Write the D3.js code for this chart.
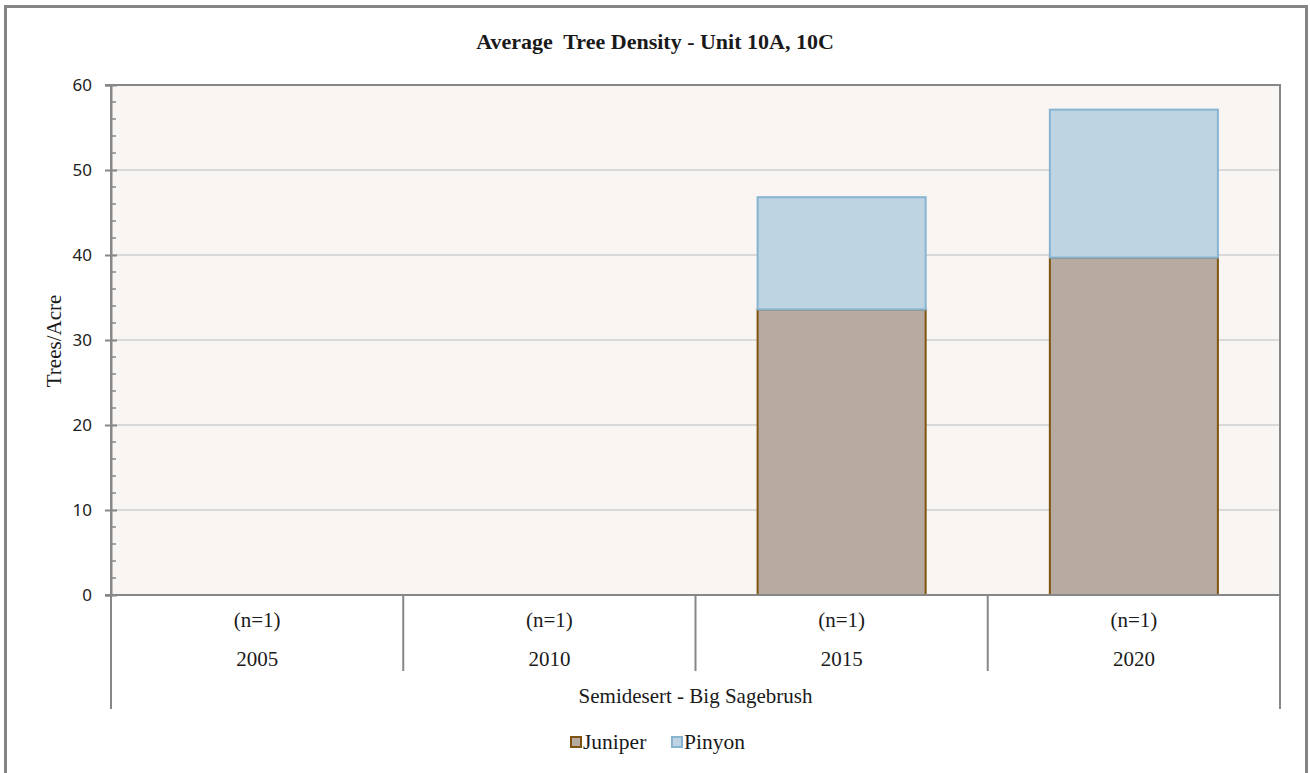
<!DOCTYPE html>
<html>
<head>
<meta charset="utf-8">
<script src="https://cdn.jsdelivr.net/npm/d3@7"></script>
<style>
  html, body { margin: 0; padding: 0; background: #ffffff; }
  svg { display: block; }
</style>
</head>
<body>
<svg id="chart" width="1310" height="773"></svg>
<script>
// Tree density per sampling year (trees/acre)
const years = ["2005", "2010", "2015", "2020"];
const sampleSizes = ["(n=1)", "(n=1)", "(n=1)", "(n=1)"];
const juniper = [0, 0, 33.6, 39.7];
const pinyon = [0, 0, 13.2, 17.4];
const yTicks = [0, 10, 20, 30, 40, 50, 60];
const groupLabel = "Semidesert - Big Sagebrush";
const seriesNames = ["Juniper", "Pinyon"];

const serif = "'Liberation Serif', 'Times New Roman', serif";
const sans = "'Noto Sans', 'DejaVu Sans', sans-serif";
const axisGray = "#878787";

const colors = {
  Juniper: { fill: "#b7aaa0", stroke: "#7f5410" },
  Pinyon: { fill: "#bfd4e2", stroke: "#86b4d1" }
};

const svg = d3.select("#chart");
const plot = { left: 111, right: 1280, top: 85, bottom: 595 };

// Outer frame
svg.append("rect")
  .attr("x", 5.5).attr("y", 6.5)
  .attr("width", 1301).attr("height", 790)
  .attr("fill", "#ffffff")
  .attr("stroke", "#858585").attr("stroke-width", 3);

const x = d3.scaleBand().domain(years).range([plot.left, plot.right]).padding(0);
const y = d3.scaleLinear().domain([0, 60]).range([plot.bottom, plot.top]);

// Plot background
svg.append("rect")
  .attr("x", plot.left).attr("y", plot.top)
  .attr("width", plot.right - plot.left).attr("height", plot.bottom - plot.top)
  .attr("fill", "#f8f5f2");

// Horizontal gridlines
svg.append("g")
  .selectAll("line")
  .data(yTicks.filter(t => t > 0 && t < 60))
  .join("line")
  .attr("x1", plot.left).attr("x2", plot.right)
  .attr("y1", d => y(d)).attr("y2", d => y(d))
  .attr("stroke", "#d9d9d9").attr("stroke-width", 2);

// Stacked bars
const rows = years.map((yr, i) => ({ year: yr, Juniper: juniper[i], Pinyon: pinyon[i] }));
const stacked = d3.stack().keys(seriesNames)(rows);
const barFrac = 0.575;
const barW = x.bandwidth() * barFrac;
const barOff = (x.bandwidth() - barW) / 2;

stacked.forEach(layer => {
  const c = colors[layer.key];
  svg.append("g")
    .selectAll("rect")
    .data(layer.filter(d => d[1] - d[0] > 0))
    .join("rect")
    .attr("x", d => x(d.data.year) + barOff)
    .attr("y", d => y(d[1]))
    .attr("width", barW)
    .attr("height", d => y(d[0]) - y(d[1]))
    .attr("fill", c.fill)
    .attr("stroke", c.stroke)
    .attr("stroke-width", 2);
});

// Plot area border (top and right)
svg.append("path")
  .attr("d", `M${plot.left - 6},${plot.top}H${plot.right}V${plot.bottom}`)
  .attr("fill", "none").attr("stroke", axisGray).attr("stroke-width", 2);

// Y axis with major and minor ticks
const yAxis = d3.axisLeft(y).tickValues(yTicks).tickSize(6).tickPadding(13).tickFormat(d3.format("d"));
const gy = svg.append("g").attr("transform", `translate(${plot.left},0)`).call(yAxis);
gy.select(".domain").attr("stroke", axisGray).attr("stroke-width", 2);
gy.selectAll(".tick line")
  .attr("stroke", axisGray).attr("stroke-width", 2)
  .attr("x1", 6).attr("x2", -6);
gy.selectAll(".tick text")
  .attr("font-family", sans).attr("font-size", 17).attr("fill", "#222");

const minorTicks = d3.range(0, 60, 2).filter(v => v % 10 !== 0);
svg.append("g")
  .selectAll("line")
  .data(minorTicks)
  .join("line")
  .attr("x1", plot.left).attr("x2", plot.left + 5)
  .attr("y1", d => y(d)).attr("y2", d => y(d))
  .attr("stroke", axisGray).attr("stroke-width", 1.5);

// Left axis extends down through the category rows
svg.append("line")
  .attr("x1", plot.left).attr("x2", plot.left)
  .attr("y1", plot.top).attr("y2", 709)
  .attr("stroke", axisGray).attr("stroke-width", 2);

// X axis baseline
svg.append("line")
  .attr("x1", plot.left - 6).attr("x2", plot.right)
  .attr("y1", plot.bottom).attr("y2", plot.bottom)
  .attr("stroke", axisGray).attr("stroke-width", 2);

// Category separators
svg.append("g")
  .selectAll("line")
  .data(years.slice(1))
  .join("line")
  .attr("x1", d => x(d)).attr("x2", d => x(d))
  .attr("y1", plot.bottom).attr("y2", 671)
  .attr("stroke", axisGray).attr("stroke-width", 2);

svg.append("line")
  .attr("x1", plot.right).attr("x2", plot.right)
  .attr("y1", plot.bottom).attr("y2", 709)
  .attr("stroke", axisGray).attr("stroke-width", 2);

// Category labels
const catText = svg.append("g")
  .attr("font-family", serif).attr("font-size", 21)
  .attr("fill", "#1a1a1a").attr("text-anchor", "middle");

catText.selectAll("text.n")
  .data(years)
  .join("text")
  .attr("class", "n")
  .attr("x", d => x(d) + x.bandwidth() / 2)
  .attr("y", 627)
  .text((d, i) => sampleSizes[i]);

catText.selectAll("text.yr")
  .data(years)
  .join("text")
  .attr("class", "yr")
  .attr("x", d => x(d) + x.bandwidth() / 2)
  .attr("y", 666)
  .text(d => d);

catText.append("text")
  .attr("x", (plot.left + plot.right) / 2)
  .attr("y", 703)
  .text(groupLabel);

// Title
svg.append("text")
  .attr("x", 655).attr("y", 49)
  .attr("text-anchor", "middle")
  .attr("font-family", serif).attr("font-size", 22).attr("font-weight", "bold")
  .attr("fill", "#1a1a1a")
  .attr("xml:space", "preserve")
  .text("Average  Tree Density - Unit 10A, 10C");

// Y axis title
svg.append("text")
  .attr("transform", "translate(61,341) rotate(-90)")
  .attr("text-anchor", "middle")
  .attr("font-family", serif).attr("font-size", 21)
  .attr("fill", "#1a1a1a")
  .text("Trees/Acre");

// Legend
const legendItems = [
  { name: "Juniper", x: 570 },
  { name: "Pinyon", x: 671 }
];
const lg = svg.append("g");
legendItems.forEach(it => {
  const c = colors[it.name];
  lg.append("rect")
    .attr("x", it.x + 1).attr("y", 737)
    .attr("width", 10).attr("height", 10)
    .attr("fill", c.fill).attr("stroke", c.stroke).attr("stroke-width", 2);
  lg.append("text")
    .attr("x", it.x + 13).attr("y", 749)
    .attr("font-family", serif).attr("font-size", 21.5)
    .attr("fill", "#1a1a1a")
    .text(it.name);
});
</script>
</body>
</html>
